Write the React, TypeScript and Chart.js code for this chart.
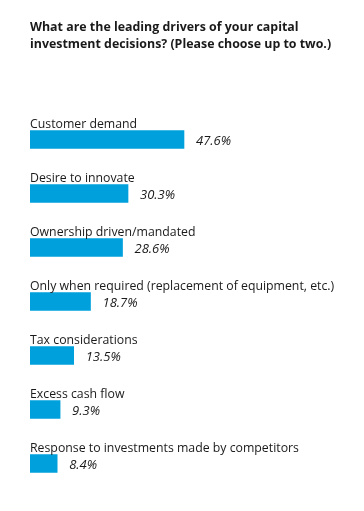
import React, { useEffect, useRef } from "react";
import { Chart, registerables } from "chart.js";

Chart.register(...registerables);

const titleLines = [
  "What are the leading drivers of your capital",
  "investment decisions? (Please choose up to two.)",
];

const categories = [
  "Customer demand",
  "Desire to innovate",
  "Ownership driven/mandated",
  "Only when required (replacement of equipment, etc.)",
  "Tax considerations",
  "Excess cash flow",
  "Response to investments made by competitors",
];

const values = [47.6, 30.3, 28.6, 18.7, 13.5, 9.3, 8.4];

const FONT = '"Open Sans", "DejaVu Sans", sans-serif';
const BAR_COLOR = "#00a0dc";
const TEXT_COLOR = "#1a1a1a";

const labelPlugin = {
  id: "labelPlugin",
  afterDatasetsDraw(chart: any) {
    const ctx = chart.ctx;
    const area = chart.chartArea;
    ctx.save();
    ctx.fillStyle = TEXT_COLOR;
    ctx.textAlign = "left";
    ctx.textBaseline = "alphabetic";
    // title
    ctx.font = `bold 12.4px ${FONT}`;
    ctx.fillText(titleLines[0], area.left, 31);
    ctx.fillText(titleLines[1], area.left, 48);
    const meta = chart.getDatasetMeta(0);
    meta.data.forEach((bar: any, i: number) => {
      const half = bar.height / 2;
      ctx.font = `12.3px ${FONT}`;
      ctx.fillText(categories[i], area.left, bar.y - half - 3);
      ctx.font = `italic 13px ${FONT}`;
      ctx.fillText(values[i].toFixed(1) + "%", bar.x + 12, bar.y + 5.5);
    });
    ctx.restore();
  },
};

export default function App() {
  const canvasRef = useRef<HTMLCanvasElement | null>(null);
  useEffect(() => {
    document.body.style.margin = "0";
    const canvas = canvasRef.current;
    if (!canvas) return;
    const chart = new Chart(canvas, {
      type: "bar",
      data: {
        labels: categories,
        datasets: [
          {
            data: values,
            backgroundColor: BAR_COLOR,
            borderWidth: 0,
            barThickness: 18,
          },
        ],
      },
      options: {
        indexAxis: "y",
        animation: false,
        responsive: true,
        maintainAspectRatio: false,
        layout: { padding: { left: 30, right: 10.5, top: 112.5, bottom: 20.5 } },
        scales: {
          x: { display: false, min: 0, max: 100 },
          y: { display: false },
        },
        plugins: {
          legend: { display: false },
          tooltip: { enabled: false },
          title: { display: false },
        },
      },
      plugins: [labelPlugin],
    });
    return () => chart.destroy();
  }, []);
  return (
    <div style={{ position: "relative", width: 364, height: 511, background: "#fff" }}>
      <canvas ref={canvasRef} />
    </div>
  );
}
